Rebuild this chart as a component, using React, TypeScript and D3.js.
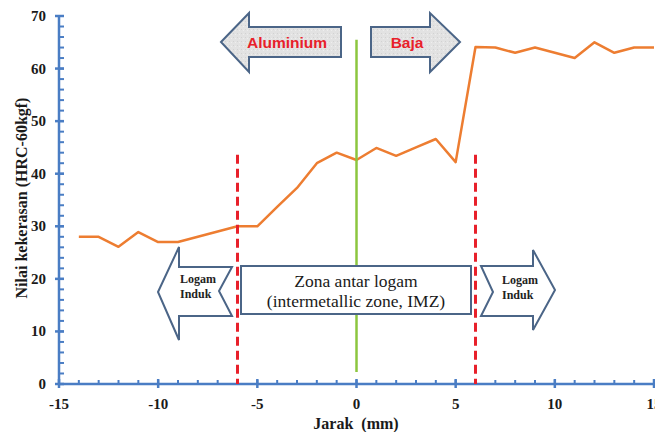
import * as d3 from "d3";

// hardness profile across the weld (distance in mm, HRC-60kgf)
const distance = [-14, -13, -12, -11, -10, -9, -8, -7, -6, -5, -4, -3, -2, -1, 0, 1, 2, 3, 4, 5, 6, 7, 8, 9, 10, 11, 12, 13, 14, 15];
const hardness = [28, 28, 26.1, 28.9, 27, 27, 28, 29, 30, 30, 33.7, 37.3, 42, 44, 42.6, 44.9, 43.4, 45, 46.6, 42.2, 64.1, 64, 63, 64, 63, 62, 65, 63, 64, 64];

const xTicks = [-15, -10, -5, 0, 5, 10, 15];
const yTicks = [0, 10, 20, 30, 40, 50, 60, 70];
const zoneBounds = [-6, 6];

const width = 655,
    height = 432;

const AXIS = "#4a7dc4";
const ARROW_STROKE = "#4b6587";
const SERIF = "'Liberation Serif', 'Times New Roman', serif";
const SANS = "'Liberation Sans', Arial, sans-serif";

export default function App() {
    const x = d3.scaleLinear().domain([-15, 15]).range([59, 654]);
    const y = d3.scaleLinear().domain([0, 70]).range([384, 16]);

    const line = d3
        .line<number>()
        .x((d, i) => x(distance[i]))
        .y((d) => y(d));

    const xMinor = d3.range(-15, 15.01, 1);
    const yMinor = d3.range(0, 70.01, 2);

    // arrow outlines (annotation shapes)
    const aluArrow = "M221,42 L249,13 L249,27 L341,27 L341,57 L249,57 L249,72 Z";
    const bajaArrow = "M371,27 L430,27 L430,13 L460,42 L430,72 L430,57 L371,57 Z";
    const leftArrow = "M158,292 L179,247 L179,267 L232,267 L219,291 L232,316 L179,316 L179,340 Z";
    const rightArrow = "M481,266 L533,266 L533,250 L555,290 L533,330 L533,316 L481,316 L493,292 Z";

    return (
        <svg width={width} height={height} style={{ position: "absolute", left: 0, top: 0, background: "#fff" }}>
            <defs>
                <pattern id="tex" width="4" height="4" patternUnits="userSpaceOnUse">
                    <rect width="4" height="4" fill="#e2e2e2" />
                    <rect x="1" y="1" width="1" height="1" fill="#d2d2d2" />
                    <rect x="3" y="2" width="1" height="1" fill="#eeeeee" />
                </pattern>
            </defs>

            {/* y axis */}
            <line x1={x(-15)} x2={x(-15)} y1={y(70)} y2={y(0)} stroke={AXIS} strokeWidth={2.5} />
            {yMinor.map((t) => (
                <line key={"ym" + t} x1={x(-15)} x2={x(-15) + 5} y1={y(t)} y2={y(t)} stroke={AXIS} strokeWidth={2} />
            ))}
            {yTicks.map((t) => (
                <g key={"y" + t}>
                    <line x1={x(-15) - 4} x2={x(-15) + 5} y1={y(t)} y2={y(t)} stroke={AXIS} strokeWidth={2.5} />
                    <text x={46} y={y(t) + 5} textAnchor="end" fontFamily={SERIF} fontWeight="bold" fontSize={15} fill="#1a1a1a">
                        {t}
                    </text>
                </g>
            ))}

            {/* x axis */}
            <line x1={x(-15)} x2={x(15)} y1={y(0)} y2={y(0)} stroke={AXIS} strokeWidth={2.5} />
            {xMinor.map((t) => (
                <line key={"xm" + t} x1={x(t)} x2={x(t)} y1={y(0) - 4} y2={y(0)} stroke={AXIS} strokeWidth={2} />
            ))}
            {xTicks.map((t) => (
                <g key={"x" + t}>
                    <line x1={x(t)} x2={x(t)} y1={y(0) - 5} y2={y(0) + 4} stroke={AXIS} strokeWidth={2.5} />
                    <text x={x(t)} y={409} textAnchor="middle" fontFamily={SERIF} fontWeight="bold" fontSize={15} fill="#1a1a1a">
                        {t}
                    </text>
                </g>
            ))}

            {/* axis titles */}
            <text
                x={356}
                y={429}
                textAnchor="middle"
                fontFamily={SERIF}
                fontWeight="bold"
                fontSize={16}
                fill="#1a1a1a"
                style={{ whiteSpace: "pre" }}
            >
                {"Jarak  (mm)"}
            </text>
            <text
                transform={`translate(27,${y(35) - 2}) rotate(-90)`}
                textAnchor="middle"
                fontFamily={SERIF}
                fontWeight="bold"
                fontSize={16}
                fill="#1a1a1a"
            >
                Nilai kekerasan (HRC-60kgf)
            </text>

            {/* hardness line */}
            <path d={line(hardness) ?? ""} fill="none" stroke="#ed7d31" strokeWidth={2.5} strokeLinejoin="round" />

            {/* centre line */}
            <line x1={x(0)} x2={x(0)} y1={y(65.5)} y2={y(2.3)} stroke="#8cc63f" strokeWidth={2.5} />

            {/* zone boundaries */}
            {zoneBounds.map((b) => (
                <line
                    key={"z" + b}
                    x1={x(b)}
                    x2={x(b)}
                    y1={y(43.6)}
                    y2={y(0)}
                    stroke="#e8202a"
                    strokeWidth={3}
                    strokeDasharray="9,5"
                />
            ))}

            {/* top arrows */}
            <path d={aluArrow} fill="url(#tex)" stroke={ARROW_STROKE} strokeWidth={2} strokeLinejoin="miter" />
            <path d={bajaArrow} fill="url(#tex)" stroke={ARROW_STROKE} strokeWidth={2} strokeLinejoin="miter" />
            <text x={287} y={48} textAnchor="middle" fontFamily={SANS} fontWeight="bold" fontSize={15.5} fill="#e8202a">
                Aluminium
            </text>
            <text x={407} y={48} textAnchor="middle" fontFamily={SANS} fontWeight="bold" fontSize={15.5} fill="#e8202a">
                Baja
            </text>

            {/* base metal arrows */}
            <path d={leftArrow} fill="#fff" stroke={ARROW_STROKE} strokeWidth={2} />
            <path d={rightArrow} fill="#fff" stroke={ARROW_STROKE} strokeWidth={2} />
            <text fontFamily={SERIF} fontWeight="bold" fontSize={12} fill="#222">
                <tspan x={180} y={283}>Logam</tspan>
                <tspan x={180} y={298}>Induk</tspan>
            </text>
            <text fontFamily={SERIF} fontWeight="bold" fontSize={12} fill="#222">
                <tspan x={502} y={284}>Logam</tspan>
                <tspan x={502} y={299}>Induk</tspan>
            </text>

            {/* intermetallic zone box */}
            <rect x={241} y={266} width={230} height={48} fill="#fff" stroke={ARROW_STROKE} strokeWidth={2} />
            <text textAnchor="middle" fontFamily={SERIF} fontSize={17.5} fill="#1a1a1a">
                <tspan x={356} y={287}>Zona antar logam</tspan>
                <tspan x={356} y={307}>(intermetallic zone, IMZ)</tspan>
            </text>
        </svg>
    );
}
